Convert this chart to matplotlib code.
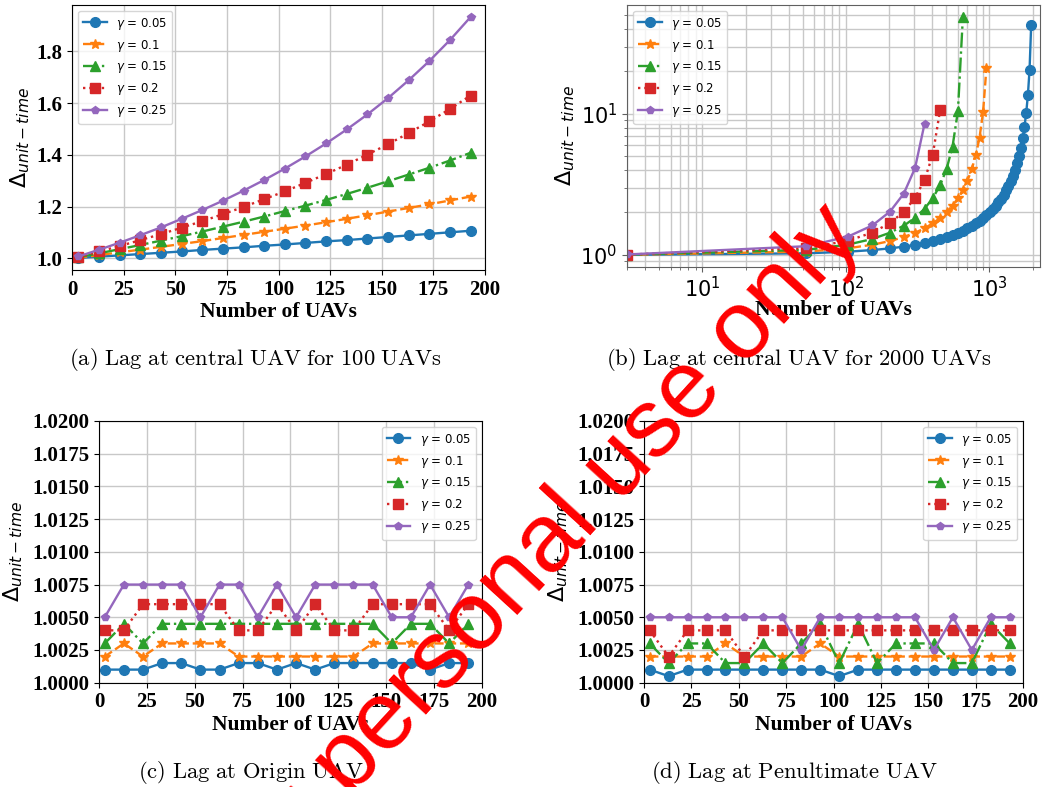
import matplotlib
matplotlib.use("Agg")
import matplotlib.pyplot as plt

# ---------------- data ----------------
gamma_labels = [r"$\gamma$ = 0.05", r"$\gamma$ = 0.1", r"$\gamma$ = 0.15",
                r"$\gamma$ = 0.2", r"$\gamma$ = 0.25"]

# (a) central UAV, 100 UAVs
x_a = [3, 13, 23, 33, 43, 53, 63, 73, 83, 93, 103, 113, 123, 133, 143,
       153, 163, 173, 183, 193]
a_g005 = [1.002, 1.007, 1.012, 1.017, 1.022, 1.027, 1.033, 1.038, 1.043, 1.049,
          1.054, 1.060, 1.066, 1.071, 1.077, 1.083, 1.089, 1.095, 1.101, 1.107]
a_g010 = [1.003, 1.013, 1.024, 1.034, 1.045, 1.056, 1.067, 1.079, 1.091, 1.103,
          1.115, 1.127, 1.140, 1.153, 1.167, 1.181, 1.195, 1.209, 1.224, 1.239]
a_g015 = [1.005, 1.020, 1.036, 1.052, 1.069, 1.086, 1.104, 1.123, 1.142, 1.162,
          1.183, 1.204, 1.226, 1.249, 1.273, 1.298, 1.324, 1.350, 1.378, 1.408]
a_g020 = [1.006, 1.027, 1.048, 1.071, 1.094, 1.119, 1.144, 1.171, 1.199, 1.229,
          1.259, 1.292, 1.326, 1.362, 1.401, 1.441, 1.484, 1.529, 1.577, 1.629]
a_g025 = [1.008, 1.034, 1.061, 1.090, 1.120, 1.153, 1.187, 1.223, 1.262, 1.303,
          1.347, 1.394, 1.444, 1.498, 1.556, 1.619, 1.688, 1.762, 1.843, 1.932]

# (b) central UAV, 2000 UAVs
x_b = [3, 53, 103, 153, 203, 253, 303, 353, 403, 453, 503, 553, 603, 653,
       703, 753, 803, 853, 903, 953, 1003, 1053, 1103, 1153, 1203, 1253,
       1303, 1353, 1403, 1453, 1503, 1553, 1603, 1653, 1703, 1753, 1803,
       1853, 1903, 1953]
b_g005 = [1.002, 1.027, 1.054, 1.083, 1.113, 1.145, 1.179, 1.214, 1.252, 1.293,
          1.336, 1.382, 1.432, 1.485, 1.542, 1.604, 1.671, 1.744, 1.823, 1.910,
          2.006, 2.112, 2.230, 2.361, 2.509, 2.677, 2.869, 3.091, 3.350, 3.656,
          4.024, 4.474, 5.038, 5.764, 6.734, 8.097, 10.15, 13.61, 20.62, 42.55]
b_g010 = [1.003, 1.056, 1.115, 1.181, 1.255, 1.339, 1.435, 1.546, 1.675, 1.828,
          2.012, 2.237, 2.519, 2.882, 3.367, 4.049, 5.076, 6.803, 10.31, 21.28]
b_g015 = [1.005, 1.086, 1.183, 1.298, 1.438, 1.612, 1.833, 2.125, 2.528, 3.120,
          4.073, 5.865, 10.47, 48.78]
b_g020 = [1.006, 1.119, 1.259, 1.441, 1.684, 2.024, 2.538, 3.401, 5.155, 10.64]
b_g025 = [1.008, 1.153, 1.347, 1.619, 2.031, 2.721, 4.124, 8.511]

# (c) origin UAV
c_g005 = [1.0010, 1.0010, 1.0010, 1.0015, 1.0015, 1.0010, 1.0010, 1.0015, 1.0015, 1.0010,
          1.0015, 1.0010, 1.0015, 1.0015, 1.0015, 1.0015, 1.0015, 1.0010, 1.0015, 1.0015]
c_g010 = [1.0020, 1.0030, 1.0020, 1.0030, 1.0030, 1.0030, 1.0030, 1.0020, 1.0020, 1.0020,
          1.0020, 1.0020, 1.0020, 1.0020, 1.0030, 1.0030, 1.0030, 1.0030, 1.0030, 1.0030]
c_g015 = [1.0030, 1.0045, 1.0030, 1.0045, 1.0045, 1.0045, 1.0045, 1.0045, 1.0045, 1.0045,
          1.0045, 1.0045, 1.0045, 1.0045, 1.0045, 1.0030, 1.0045, 1.0045, 1.0030, 1.0045]
c_g020 = [1.0040, 1.0040, 1.0060, 1.0060, 1.0060, 1.0060, 1.0060, 1.0040, 1.0040, 1.0060,
          1.0040, 1.0060, 1.0040, 1.0040, 1.0060, 1.0060, 1.0060, 1.0060, 1.0040, 1.0060]
c_g025 = [1.0050, 1.0075, 1.0075, 1.0075, 1.0075, 1.0050, 1.0075, 1.0075, 1.0050, 1.0075,
          1.0050, 1.0075, 1.0075, 1.0075, 1.0075, 1.0050, 1.0050, 1.0075, 1.0050, 1.0075]

# (d) penultimate UAV
d_g005 = [1.0010, 1.0005, 1.0010, 1.0010, 1.0010, 1.0010, 1.0010, 1.0010, 1.0010, 1.0010,
          1.0005, 1.0010, 1.0010, 1.0010, 1.0010, 1.0010, 1.0010, 1.0010, 1.0010, 1.0010]
d_g010 = [1.0020, 1.0020, 1.0020, 1.0020, 1.0030, 1.0020, 1.0020, 1.0020, 1.0020, 1.0030,
          1.0020, 1.0020, 1.0020, 1.0020, 1.0020, 1.0020, 1.0020, 1.0020, 1.0020, 1.0020]
d_g015 = [1.0030, 1.0015, 1.0030, 1.0030, 1.0015, 1.0015, 1.0030, 1.0015, 1.0030, 1.0045,
          1.0015, 1.0045, 1.0015, 1.0030, 1.0030, 1.0030, 1.0015, 1.0015, 1.0045, 1.0030]
d_g020 = [1.0040, 1.0020, 1.0040, 1.0040, 1.0040, 1.0020, 1.0040, 1.0040, 1.0040, 1.0040,
          1.0040, 1.0040, 1.0040, 1.0040, 1.0040, 1.0040, 1.0040, 1.0040, 1.0040, 1.0040]
d_g025 = [1.0050, 1.0050, 1.0050, 1.0050, 1.0050, 1.0050, 1.0050, 1.0050, 1.0025, 1.0050,
          1.0050, 1.0050, 1.0050, 1.0050, 1.0050, 1.0025, 1.0050, 1.0025, 1.0050, 1.0050]

x_ticks = [0, 25, 50, 75, 100, 125, 150, 175, 200]
x_tick_labels = ["0", "25", "50", "75", "100", "125", "150", "175", "200"]
a_y_ticks = [1.0, 1.2, 1.4, 1.6, 1.8]
a_y_tick_labels = ["1.0", "1.2", "1.4", "1.6", "1.8"]
cd_y_ticks = [1.0, 1.0025, 1.005, 1.0075, 1.01, 1.0125, 1.015, 1.0175, 1.02]
cd_y_tick_labels = ["1.0000", "1.0025", "1.0050", "1.0075", "1.0100",
                    "1.0125", "1.0150", "1.0175", "1.0200"]

captions = [r"$\mathrm{(a)\ Lag\ at\ central\ UAV\ for\ 100\ UAVs}$",
            r"$\mathrm{(b)\ Lag\ at\ central\ UAV\ for\ 2000\ UAVs}$",
            r"$\mathrm{(c)\ Lag\ at\ Origin\ UAV}$",
            r"$\mathrm{(d)\ Lag\ at\ Penultimate\ UAV}$"]

# ---------------- styling ----------------
colors = ["#1f77b4", "#ff7f0e", "#2ca02c", "#d62728", "#9467bd"]
linestyles = ["-", "--", "-.", ":", "-"]
markers = ["o", "*", "^", "s", "p"]
msizes = [7, 7.5, 7, 7, 6]
SERIF = "Liberation Serif"
TICK_FS = 15
LABEL_FS = 15.5
YLABEL = r"$\Delta_{unit-time}$"

W, H = 1046, 787
fig = plt.figure(figsize=(W / 100, H / 100), dpi=100)


def px_axes(left, top, right, bottom):
    return fig.add_axes([left / W, 1 - bottom / H, (right - left) / W, (bottom - top) / H])


ax_a = px_axes(72.3, 5, 485, 270)
ax_b = px_axes(627.3, 5, 1040, 266.7)
ax_c = px_axes(99, 421, 481.7, 682.7)
ax_d = px_axes(644, 421, 1023, 682.7)


def plot_series(ax, xs, ys_list):
    for ys, c, ls, mk, ms, lab in zip(ys_list, colors, linestyles, markers, msizes, gamma_labels):
        ax.plot(xs[:len(ys)], ys, color=c, linestyle=ls, marker=mk, markersize=ms,
                linewidth=1.7, label=lab)


def common(ax, loc, ylab_x, xlab_y):
    ax.grid(True, color="#c8c8c8", linewidth=1.0)
    ax.set_axisbelow(True)
    ax.legend(loc=loc, prop={"family": "DejaVu Sans", "size": 8.5})
    ax.set_ylabel(YLABEL, fontsize=16)
    ax.yaxis.set_label_coords(ylab_x, 0.5)
    ax.set_xlabel("Number of UAVs", fontfamily=SERIF, fontweight="bold", fontsize=LABEL_FS)
    ax.xaxis.set_label_coords(0.5, xlab_y)


# (a)
plot_series(ax_a, x_a, [a_g005, a_g010, a_g015, a_g020, a_g025])
ax_a.set_xlim(0, 200)
ax_a.set_xticks(x_ticks, labels=x_tick_labels, fontfamily=SERIF, fontweight="bold", fontsize=TICK_FS)
ax_a.set_yticks(a_y_ticks, labels=a_y_tick_labels, fontfamily=SERIF, fontweight="bold", fontsize=TICK_FS)
common(ax_a, "upper left", -0.098, -0.12)

# (b)
plot_series(ax_b, x_b, [b_g005, b_g010, b_g015, b_g020, b_g025])
ax_b.set_xscale("log")
ax_b.set_yscale("log")
ax_b.set_xlim(3, 2250)
ax_b.tick_params(labelsize=TICK_FS)
ax_b.tick_params(which="both", color="#606060")
for sp in ax_b.spines.values():
    sp.set_color("#606060")
common(ax_b, "upper left", -0.123, -0.127)
ax_b.grid(True, which="both", color="#c8c8c8", linewidth=1.0)

# (c)
plot_series(ax_c, x_a, [c_g005, c_g010, c_g015, c_g020, c_g025])
ax_c.set_xlim(0, 200)
ax_c.set_ylim(1.0, 1.02)
ax_c.set_xticks(x_ticks, labels=x_tick_labels, fontfamily=SERIF, fontweight="bold", fontsize=TICK_FS)
ax_c.set_yticks(cd_y_ticks, labels=cd_y_tick_labels, fontfamily=SERIF, fontweight="bold", fontsize=TICK_FS)
common(ax_c, "upper right", -0.193, -0.123)

# (d)
plot_series(ax_d, x_a, [d_g005, d_g010, d_g015, d_g020, d_g025])
ax_d.set_xlim(0, 200)
ax_d.set_ylim(1.0, 1.02)
ax_d.set_xticks(x_ticks, labels=x_tick_labels, fontfamily=SERIF, fontweight="bold", fontsize=TICK_FS)
ax_d.set_yticks(cd_y_ticks, labels=cd_y_tick_labels, fontfamily=SERIF, fontweight="bold", fontsize=TICK_FS)
common(ax_d, "upper right", -0.195, -0.123)

# captions
cap_pos = [(256, 360), (799, 360), (251, 773), (794, 773)]
for (cx, cy), txt in zip(cap_pos, captions):
    fig.text(cx / W, 1 - cy / H, txt, ha="center", va="center", fontsize=16.3,
             math_fontfamily="cm")

# watermark
fig.text(530 / W, 1 - 565 / H, "For personal use only", rotation=47.5, fontsize=70,
         color="#ff0000", ha="center", va="center", rotation_mode="anchor",
         fontfamily="Liberation Sans")

fig.savefig("out.png", dpi=100)
